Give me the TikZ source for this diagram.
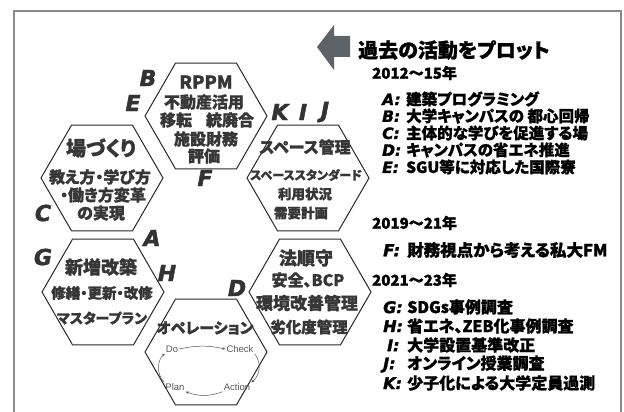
\documentclass[tikz,border=0pt]{standalone}
\usepackage{fontspec}
\usetikzlibrary{shapes.geometric,arrows.meta}
\newfontfamily\jp{Noto Sans CJK JP}[RawFeature=+palt]
\newfontfamily\jph{Noto Sans CJK JP}[RawFeature=+palt, FakeBold=1.2]
\newfontfamily\lsans{Liberation Sans}
\newfontfamily\heavy{DejaVu Sans}[FakeBold=2]
\definecolor{hexline}{HTML}{25282E}
\definecolor{hextext}{HTML}{363636}
\definecolor{lettc}{HTML}{333333}
\definecolor{framec}{HTML}{8A8A8A}
\definecolor{arrowc}{HTML}{5E6368}
\definecolor{cycc}{HTML}{555555}
\newcommand{\fs}[1]{\fontsize{#1}{#1}\selectfont}
\newcommand{\lab}[1]{\makebox[24pt][l]{\heavy\bfseries\itshape #1:}}
\begin{document}
\begin{tikzpicture}[x=1pt,y=-1pt,
  hexa/.style={regular polygon, regular polygon sides=6, minimum size=122pt, inner sep=0pt, draw=hexline, line width=1pt},
  ht/.style={font={\jph\bfseries\fs{#1}}, text=hextext, inner sep=0pt},
  letter/.style={font={\heavy\bfseries\itshape\fs{22}}, text=lettc, inner sep=0pt},
  pd/.style={font={\lsans\fs{9.5}}, text=cycc, inner sep=1pt},
  cyc/.style={draw=cycc, line width=0.5pt, -{Stealth[length=3pt,width=2.5pt]}},
  item/.style={font={\jph\bfseries\fs{#1}}, text=black, anchor=west, inner sep=0pt},
  year/.style={font={\jph\bfseries\fs{15}}, text=black, anchor=west, inner sep=0pt}
]
\useasboundingbox (0,0) rectangle (624,412);
% frame
\draw[framec, line width=1.2pt] (14,412) -- (14,11) -- (621,11) -- (621,412);

% hexagons
\node[hexa] (h1) at (206,116) {};
\node[hexa] (h2) at (102,178) {};
\node[hexa] (h3) at (308,178) {};
\node[hexa] (h4) at (103,292) {};
\node[hexa] (h5) at (310,292) {};
\node[hexa] (h6) at (206,352) {};

% hex 1
\node[ht=18] (t11) at (206,82) {RPPM};
\node[ht=16] (t12) at (204,102) {不動産活用};
\node[ht=16] (t13) at (207,120) {移転\hspace{14pt}統廃合};
\node[ht=16] (t14) at (206,139) {施設財務};
\node[ht=16] (t15) at (204,156) {評価};
% hex 2
\node[ht=20] (t21) at (101,148) {場づくり};
\node[ht=16] (t22) at (100,177) {教え方・学び方};
\node[ht=16] (t23) at (103,195) {・働き方変革};
\node[ht=16] (t24) at (101,213) {の実現};
% hex 3
\node[ht=16] (t31) at (305,147) {スペース管理};
\node[ht=12] (t32) at (306,175) {スペーススタンダード};
\node[ht=13.5] (t33) at (305,194) {利用状況};
\node[ht=13.5] (t34) at (301,213) {需要計画};
% hex 4
\node[ht=18] (t41) at (101,267) {新増改築};
\node[ht=14.5] (t42) at (102,293) {修繕・更新・改修};
\node[ht=14] (t43) at (102,318) {マスタープラン};
% hex 5
\node[ht=18] (t51) at (306,258) {法順守};
\node[ht=16] (t52) at (308,280) {安全、BCP};
\node[ht=17] (t53) at (307,303) {環境改善管理};
\node[ht=15.5] (t54) at (309,327) {劣化度管理};
% hex 6
\node[ht=15] (t61) at (205,328) {オペレーション};
\node[pd] (do) at (172,349) {Do};
\node[pd] (check) at (240,349) {Check};
\node[pd] (plan) at (175,387) {Plan};
\node[pd] (act) at (237,387) {Action};
\draw[cyc] (do.east) to[bend left=12] (check.west);
\draw[cyc] (check.south east) to[bend left=45] (act.north east);
\draw[cyc] (act.south west) to[bend left=20] (plan.south east);
\draw[cyc] (plan.north west) to[bend left=45] (do.south west);

% letters
\node[letter] (lB) at (148,78) {B};
\node[letter] (lE) at (133,103) {E};
\node[letter] (lK) at (280,112) {K};
\node[letter] (lI) at (303,112) {I};
\node[letter] (lJ) at (325,112) {J};
\node[letter] (lF) at (205,178) {F};
\node[letter] (lC) at (43,213) {C};
\node[letter] (lA) at (152,238) {A};
\node[letter] (lG) at (43,257) {G};
\node[letter] (lH) at (167,273) {H};
\node[letter] (lD) at (237,288) {D};

% arrow and title
\fill[arrowc] (317,47) -- (334,25) -- (334,36) -- (350,36) -- (350,57) -- (334,57) -- (334,70) -- cycle;
\node[font={\jph\bfseries\fs{20}}, anchor=west, inner sep=0pt] (title) at (358,50) {過去の活動をプロット};

% lists
\node[year] (y1) at (372,73) {2012～15年};
\node[item=15.5] (iA) at (382,99) {\lab{A}建築プログラミング};
\node[item=15.5] (iB) at (382,116) {\lab{B}大学キャンパスの 都心回帰};
\node[item=15.5] (iC) at (382,133) {\lab{C}主体的な学びを促進する場};
\node[item=15.5] (iD) at (382,150) {\lab{D}キャンパスの省エネ推進};
\node[item=15.5] (iE) at (382,167) {\lab{E}SGU等に対応した国際寮};

\node[year] (y2) at (372,223) {2019～21年};
\node[item=16.5] (iF) at (383,250) {\lab{F}財務視点から考える私大FM};

\node[year] (y3) at (372,280) {2021～23年};
\node[item=16] (iG) at (383,307) {\lab{G}SDGs事例調査};
\node[item=16] (iH) at (383,326) {\lab{H}省エネ、ZEB化事例調査};
\node[item=16] (iI) at (383,345) {\lab{\hspace{4pt}I}大学設置基準改正};
\node[item=16] (iJ) at (383,364) {\lab{J}オンライン授業調査};
\node[item=16] (iK) at (383,383) {\lab{K}少子化による大学定員過測};
\end{tikzpicture}
\end{document}
